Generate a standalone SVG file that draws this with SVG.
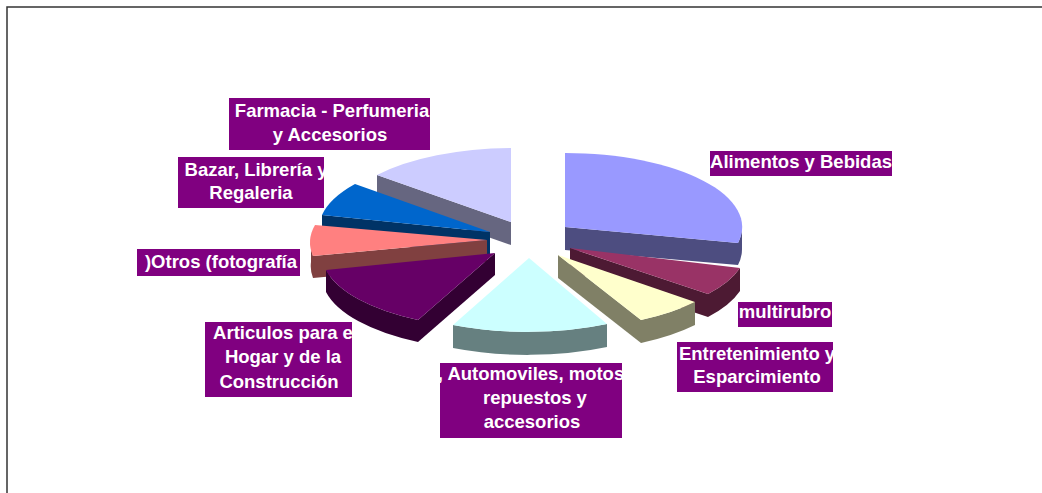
<svg xmlns="http://www.w3.org/2000/svg" width="1042" height="493" viewBox="0 0 1042 493">
<style>
.lbl{fill:#800080}
.t{font-family:"Liberation Sans",Arial,sans-serif;font-weight:bold;font-size:18.5px;fill:#ffffff;text-anchor:middle}
</style>
<defs>
<clipPath id="c1"><rect x="229" y="98" width="201" height="52"/></clipPath>
<clipPath id="c2"><rect x="178" y="157" width="146" height="51"/></clipPath>
<clipPath id="c3"><rect x="137" y="249" width="163" height="27"/></clipPath>
<clipPath id="c4"><rect x="205" y="322" width="147" height="75"/></clipPath>
<clipPath id="c5"><rect x="440" y="363" width="182" height="75"/></clipPath>
<clipPath id="c6"><rect x="710" y="151" width="182" height="25"/></clipPath>
<clipPath id="c7"><rect x="738" y="302" width="94" height="25"/></clipPath>
<clipPath id="c8"><rect x="677" y="342" width="156" height="50"/></clipPath>
</defs>
<rect width="1042" height="493" fill="#ffffff"/>
<path d="M7,493 L7,7 L1042,7" fill="none" stroke="#333333" stroke-width="1.5"/>

<g id="slice-farmacia">
<path d="M377,175 L511,222 L511,245 L377,198 Z" fill="#666680"/>
<path d="M511,222 L511,148 A177,74 0 0 0 377,175 Z" fill="#CCCCFF"/>
</g>
<g id="slice-bazar">
<path d="M322,215 L490,232 L490,255 L322,238 Z" fill="#003366"/>
<path d="M490,232 L355,184 A177,74 0 0 0 322,215 Z" fill="#0066CC"/>
</g>
<g id="slice-otros">
<path d="M313,256 L487,240 L487,262 L313,278 Z" fill="#804040"/>
<path d="M311,240 A177,74 0 0 0 313,256 L313,278 A177,74 0 0 1 311,262 Z" fill="#804040"/>
<path d="M487,240 L315,225 A177,74 0 0 0 313,256 Z" fill="#FF8080"/>
</g>
<g id="slice-alimentos">
<path d="M565,227 L738,243 L738,265 L565,250 Z" fill="#4D4D80"/>
<path d="M742,227 A177,74 0 0 1 738,243 L738,265 A177,74 0 0 0 742,249 Z" fill="#4D4D80"/>
<path d="M565,227 L565,153 A177,74 0 0 1 738,243 Z" fill="#9999FF"/>
</g>
<g id="slice-multirubro">
<path d="M570,248 L708,294 L708,317 L570,271 Z" fill="#4D1A33"/>
<path d="M740,268 A177,74 0 0 1 708,294 L708,317 A177,74 0 0 0 740,291 Z" fill="#4D1A33"/>
<path d="M570,248 L740,268 A177,74 0 0 1 708,294 Z" fill="#993366"/>
</g>
<g id="slice-entretenimiento">
<path d="M558,255 L641,320 L641,343 L558,278 Z" fill="#808066"/>
<path d="M695,302 A177,74 0 0 1 641,320 L641,343 A177,74 0 0 0 695,325 Z" fill="#808066"/>
<path d="M558,255 L695,302 A177,74 0 0 1 641,320 Z" fill="#FFFFCC"/>
</g>
<g id="slice-articulos">
<path d="M495,253 L418,320 L418,342 L495,275 Z" fill="#330033"/>
<path d="M326,270 A177,74 0 0 0 418,320 L418,342 A177,74 0 0 1 326,292 Z" fill="#330033"/>
<path d="M495,253 L326,270 A177,74 0 0 0 418,320 Z" fill="#660066"/>
</g>
<g id="slice-automoviles">
<path d="M607,324 A177,74 0 0 1 453,325 L453,348 A177,74 0 0 0 607,347 Z" fill="#668080"/>
<path d="M529,258 L607,324 A177,74 0 0 1 453,325 Z" fill="#CCFFFF"/>
</g>

<g id="label-farmacia">
<rect class="lbl" x="229" y="98" width="201" height="52"/>
<g clip-path="url(#c1)"><text class="t" x="332" y="117">Farmacia - Perfumeria</text><text class="t" x="330" y="141">y Accesorios</text></g>
</g>
<g id="label-bazar">
<rect class="lbl" x="178" y="157" width="146" height="51"/>
<g clip-path="url(#c2)"><text class="t" x="256" y="176">Bazar, Librería y</text><text class="t" x="251" y="199">Regaleria</text></g>
</g>
<g id="label-otros">
<rect class="lbl" x="137" y="249" width="163" height="27"/>
<g clip-path="url(#c3)"><text class="t" x="221" y="268">)Otros (fotografía</text></g>
</g>
<g id="label-articulos">
<rect class="lbl" x="205" y="322" width="147" height="75"/>
<g clip-path="url(#c4)"><text class="t" x="283" y="339">Articulos para e</text><text class="t" x="283" y="363">Hogar y de la</text><text class="t" x="279" y="388">Construcción</text></g>
</g>
<g id="label-automoviles">
<rect class="lbl" x="440" y="363" width="182" height="75"/>
<g clip-path="url(#c5)"><text class="t" x="531" y="380">, Automoviles, motos</text><text class="t" x="535" y="404">repuestos y</text><text class="t" x="532" y="428">accesorios</text></g>
</g>
<g id="label-alimentos">
<rect class="lbl" x="710" y="151" width="182" height="25"/>
<g clip-path="url(#c6)"><text class="t" x="801" y="168">Alimentos y Bebidas</text></g>
</g>
<g id="label-multirubro">
<rect class="lbl" x="738" y="302" width="94" height="25"/>
<g clip-path="url(#c7)"><text class="t" x="785" y="318">multirubro</text></g>
</g>
<g id="label-entretenimiento">
<rect class="lbl" x="677" y="342" width="156" height="50"/>
<g clip-path="url(#c8)"><text class="t" x="757" y="360">Entretenimiento y</text><text class="t" x="757" y="383">Esparcimiento</text></g>
</g>
</svg>
